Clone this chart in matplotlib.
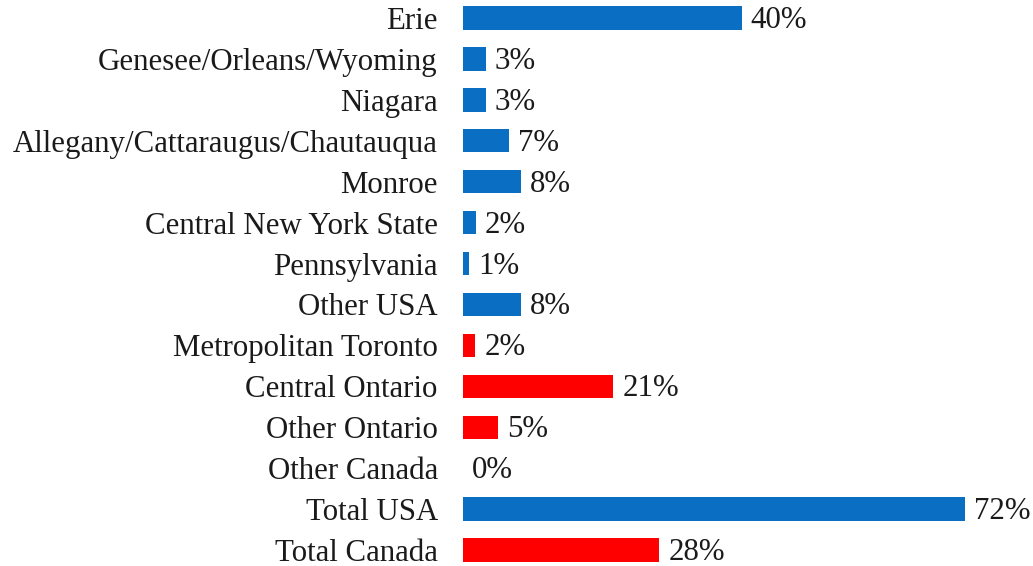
import matplotlib
matplotlib.use("Agg")
import matplotlib.pyplot as plt

categories = ["Erie", "Genesee/Orleans/Wyoming", "Niagara", "Allegany/Cattaraugus/Chautauqua",
              "Monroe", "Central New York State", "Pennsylvania", "Other USA",
              "Metropolitan Toronto", "Central Ontario", "Other Ontario", "Other Canada",
              "Total USA", "Total Canada"]
values = [40.0, 3.3, 3.3, 6.6, 8.3, 1.9, 0.9, 8.3, 1.8, 21.6, 5.0, 0.0, 72.0, 28.2]
value_labels = ["40%", "3%", "3%", "7%", "8%", "2%", "1%", "8%", "2%", "21%", "5%", "0%", "72%", "28%"]
country = ["USA"] * 8 + ["Canada"] * 4 + ["USA", "Canada"]

colors = {"USA": "#0a6fc2", "Canada": "#ff0000"}

plt.rcParams['font.family'] = ['Liberation Serif', 'DejaVu Serif']

fig = plt.figure(figsize=(10.33, 5.66), dpi=100)
ax = fig.add_axes([0.448, 0.0, 0.552, 1.0])

ypos = list(range(len(categories)))
ax.barh(ypos, values, height=0.57, color=[colors[c] for c in country])

for y, v, lab in zip(ypos, values, value_labels):
    ax.text(v + 1.3, y + 0.06, lab, va="center", ha="left", fontsize=22.2, color="#1a1a1a")

ax.set_yticks(ypos)
ax.set_yticklabels(categories, fontsize=22.2, color="#1a1a1a")
ax.tick_params(axis="y", length=0, pad=18)
ax.set_xticks([])
ax.set_xlim(0, 81.8)
ax.set_ylim(13.39, -0.44)
for s in ax.spines.values():
    s.set_visible(False)

fig.savefig("out.png", dpi=100)
